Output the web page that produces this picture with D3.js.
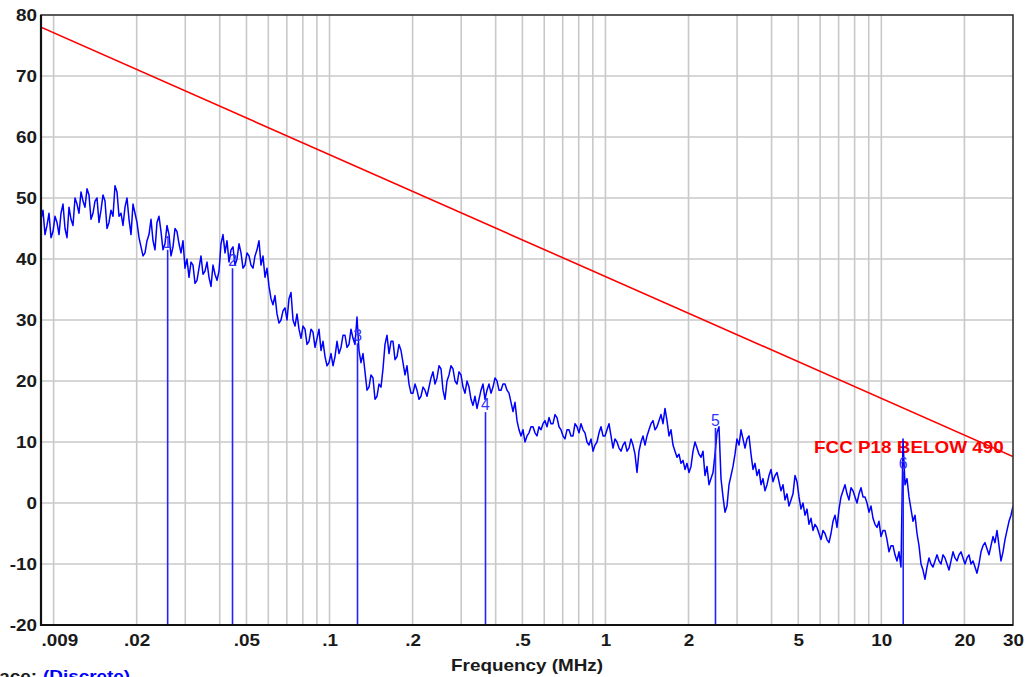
<!DOCTYPE html>
<html>
<head>
<meta charset="utf-8">
<script src="https://cdn.jsdelivr.net/npm/d3@7"></script>
<style>
  html, body { margin: 0; padding: 0; background: #fff; overflow: hidden; }
  svg { display: block; }
  text { font-family: "Liberation Sans", Arial, sans-serif; }
</style>
</head>
<body>
<div id="chart"></div>
<script>
// ── Data ────────────────────────────────────────────────────────────────────
// Sweep: log-spaced from 9 kHz to 30 MHz, one level (dBuV/m) per point.
const sweepStart = 0.009, sweepStop = 30; // MHz
const traceLevels = [
  46.5, 48, 44, 45.5, 47.5, 43.5, 44.5, 47, 46, 44, 47.5, 49, 45, 43.5, 48.5, 46.5, 45.5, 50, 49, 47.5,
  51, 49.5, 48.5, 51.5, 50.5, 46.5, 47.5, 49.5, 50, 46, 48, 50.5, 49.5, 45, 46, 48, 47, 52, 51, 47,
  47.5, 45.5, 48.5, 50, 46.5, 44, 49, 47.5, 46, 43.5, 42, 40.5, 41, 43, 44, 46.5, 43, 41.5, 46, 47,
  44.5, 41.5, 42.5, 45.5, 44, 40.5, 42, 45, 44.5, 42.5, 41, 43, 38.5, 40, 37, 39.5, 39, 36, 36.5, 38.5,
  40.5, 37.5, 38, 39.5, 37, 35.5, 39, 37.5, 36.5, 38, 42.5, 44, 41, 43, 39.5, 41.5, 42, 39, 40, 42.5,
  41, 38.5, 39, 41, 40.5, 39, 38.5, 40.5, 41.5, 43, 39, 40.5, 37, 38.5, 35.5, 33.5, 32.5, 34, 31, 29.5,
  30, 31.5, 32, 30, 33.5, 34.5, 30, 29, 31, 28.5, 27, 29, 28.5, 26, 26.5, 28.5, 28, 25.5, 27, 28.5,
  25, 26.5, 24, 22.5, 23, 24.5, 22.5, 24, 26.5, 24.5, 25.5, 27.5, 27.5, 25.5, 26, 28.5, 27, 26, 30.5, 25,
  23, 24.5, 21.5, 18.5, 19, 21, 20.5, 17, 17.5, 19.5, 19, 22, 26, 27.5, 24.5, 26.5, 26.5, 23.5, 24, 26,
  25, 23, 21, 22.5, 19.5, 18, 18, 19.5, 18.5, 17, 17.5, 19, 18.5, 17.5, 19, 20.5, 21.5, 19.5, 20.5, 22.5,
  22, 18.5, 17, 20, 21, 22.5, 22, 20, 19.5, 21.5, 21, 19, 18, 20, 19, 17, 16, 17.5, 15.5, 17,
  18.5, 19.5, 17, 18.5, 19.5, 18, 19, 20.5, 20, 18.5, 18.5, 19.5, 19.5, 18.5, 18, 16.5, 15, 16.5, 13.5, 12,
  11, 12, 10, 11, 11.5, 12.5, 12.5, 11.5, 11, 12.5, 12, 13, 13.5, 12.5, 14, 13, 13, 14.5, 14, 12.5,
  12, 11, 10.5, 12, 12, 11, 11, 13, 12.5, 11.5, 13, 12, 11.5, 10, 9.5, 10.5, 8.5, 9.5, 10, 11.5,
  12.5, 11, 11, 12, 13, 11, 9, 10.5, 10, 9, 8.5, 9.5, 10, 8.5, 9, 10.5, 9.5, 8, 5, 8.5,
  10, 11, 9.5, 11, 12, 13, 13.5, 12, 12.5, 13.5, 14.5, 13, 15.5, 13.5, 11, 12, 9.5, 8.5, 7.5, 8,
  6.5, 7, 5.5, 6.5, 5, 6, 8.5, 10, 9, 8, 7.5, 8.5, 4.5, 6, 3, 4, 5, 8, 11.5, 12.5,
  4, 1, -1.5, -0.5, 3, 4.5, 6, 8, 10.5, 9.5, 12, 10.5, 9, 10.5, 11, 8, 5.5, 6.5, 4.5, 5.5,
  3, 4, 2, 3, 4.5, 5.5, 3.5, 4.5, 5, 3.5, 2, 3, 0.5, 1.5, -0.5, 0.5, 1.5, 4.5, 3.5, 1,
  -1, 0, -2, -1, -3.5, -2.5, -4.5, -3.5, -4, -5, -6, -4.5, -5, -6, -6.5, -5, -3, -2, -4, -1,
  1, 2, 3, 1.5, 0.5, 2.5, 2, 1, 0, 1.5, 2.5, 1, 1, 0, -1.5, -0.5, -2.5, -3.5, -4, -3,
  -5.5, -4.5, -4.5, -6, -8, -7, -7, -8.5, -9.5, -8, -10.5, 10.5, 3, 4, 1, -1, -3, -2, -5, -7,
  -10, -11, -12.5, -10.5, -9, -10, -10.5, -9.5, -8.5, -9.5, -10, -8.5, -9, -10, -11, -9.5, -8, -9, -9.5, -8.5,
  -8, -9, -10, -9, -8.5, -10, -9.5, -10.5, -11.5, -10, -8, -7, -6.5, -7.5, -8.5, -7, -5.5, -6.5, -4.5, -7,
  -9.5, -8, -6, -4.5, -3, -2, -0.5
];

// FCC part 18 limit (straight line on the log axis)
const limitFreq = [0.009, 30];
const limitLevel = [78, 7.6];
const limitName = 'FCC P18 BELOW 490';

// Markers 1..6
const markerNames = ['1', '2', '3', '4', '5', '6'];
const markerFreq = [0.0259, 0.0445, 0.1263, 0.3675, 2.505, 12.0];
const markerLevel = [41.5, 38.5, 26.2, 14.9, 12.3, 5.2];

// Axes
const xTickValues = [0.009, 0.02, 0.05, 0.1, 0.2, 0.5, 1, 2, 5, 10, 20, 30];
const xTickLabels = ['.009', '.02', '.05', '.1', '.2', '.5', '1', '2', '5', '10', '20', '30'];
const yTickValues = [-20, -10, 0, 10, 20, 30, 40, 50, 60, 70, 80];
const xTitle = 'Frequency (MHz)';

// ── Layout ──────────────────────────────────────────────────────────────────
const W = 1028, H = 677;
const M = { left: 41, right: 15, top: 15, bottom: 52 };
const SX = 1.18;            // the original lettering is drawn a bit wide
const BLUE = '#0000ff', RED = '#ff0000', GRID = '#c8c8c8', INK = '#1a1a1a';

const svg = d3.select('#chart').append('svg').attr('width', W).attr('height', H);
svg.append('rect').attr('width', W).attr('height', H).attr('fill', '#fff');

const x = d3.scaleLog().domain([sweepStart, sweepStop]).range([M.left, W - M.right]);
const y = d3.scaleLinear().domain([-20, 80]).range([H - M.bottom, M.top]);

svg.append('defs').append('clipPath').attr('id', 'plotClip')
  .append('rect').attr('x', M.left).attr('y', M.top)
  .attr('width', W - M.left - M.right).attr('height', H - M.top - M.bottom);

// grid
const grid = svg.append('g').attr('stroke', GRID).attr('stroke-width', 1.6);
grid.selectAll('line.v')
  .data(x.ticks().filter(f => f > sweepStart * 1.001 && f < sweepStop * 0.999))
  .join('line').attr('class', 'v')
  .attr('x1', d => x(d)).attr('x2', d => x(d))
  .attr('y1', M.top).attr('y2', H - M.bottom);
grid.selectAll('line.h')
  .data(yTickValues.slice(1, -1))
  .join('line').attr('class', 'h')
  .attr('x1', M.left).attr('x2', W - M.right)
  .attr('y1', d => y(d)).attr('y2', d => y(d));

// limit label, then limit line
svg.append('text')
  .attr('transform', `translate(${x(5.7)},${y(8.2)}) scale(${SX},1)`)
  .attr('fill', RED).attr('font-weight', 700).attr('font-size', 16)
  .text(limitName);

const plot = svg.append('g').attr('clip-path', 'url(#plotClip)');
plot.append('path')
  .datum(limitFreq.map((f, i) => [f, limitLevel[i]]))
  .attr('fill', 'none').attr('stroke', RED).attr('stroke-width', 1.6)
  .attr('d', d3.line().x(d => x(d[0])).y(d => y(d[1])));

// trace
const n = traceLevels.length;
const traceFreq = traceLevels.map((_, i) => sweepStart * Math.pow(sweepStop / sweepStart, i / (n - 1)));
plot.append('path')
  .datum(traceLevels.map((v, i) => [traceFreq[i], v]))
  .attr('fill', 'none').attr('stroke', BLUE).attr('stroke-width', 1.5)
  .attr('stroke-linejoin', 'round')
  .attr('d', d3.line().x(d => x(d[0])).y(d => y(d[1])));

// markers
const mk = svg.append('g');
mk.selectAll('line')
  .data(markerFreq)
  .join('line')
  .attr('x1', d => x(d)).attr('x2', d => x(d))
  .attr('y1', (d, i) => y(markerLevel[i])).attr('y2', y(-20))
  .attr('stroke', '#2222ff').attr('stroke-width', 1.6);
mk.selectAll('text')
  .data(markerFreq)
  .join('text')
  .attr('transform', (d, i) => `translate(${x(d)},${y(markerLevel[i]) - 2}) scale(1.05,1.15)`)
  .attr('text-anchor', 'middle').attr('font-size', 15).attr('fill', '#3333ff')
  .text((d, i) => markerNames[i]);

// frame
svg.append('rect')
  .attr('x', M.left).attr('y', M.top)
  .attr('width', W - M.left - M.right).attr('height', H - M.top - M.bottom)
  .attr('fill', 'none').attr('stroke', '#333').attr('stroke-width', 1.6);
svg.append('path')
  .attr('d', `M${M.left},${M.top} V${H - M.bottom} H${W - M.right}`)
  .attr('fill', 'none').attr('stroke', '#111').attr('stroke-width', 2.2);

// axes (labels only; the frame and grid are drawn above)
const xAxis = svg.append('g')
  .attr('transform', `translate(0,${H - M.bottom})`)
  .call(d3.axisBottom(x).tickValues(xTickValues).tickSize(0).tickPadding(10)
    .tickFormat((d, i) => xTickLabels[i]));
const yAxis = svg.append('g')
  .attr('transform', `translate(${M.left},0)`)
  .call(d3.axisLeft(y).tickValues(yTickValues).tickSize(0).tickPadding(4)
    .tickFormat(d => String(d)));
[xAxis, yAxis].forEach(a => {
  a.select('.domain').remove();
  a.selectAll('text')
    .attr('font-family', '"Liberation Sans", Arial, sans-serif')
    .attr('font-size', 16).attr('font-weight', 700).attr('fill', INK);
});
xAxis.selectAll('.tick text').attr('transform', `scale(${SX},1)`);
xAxis.selectAll('.tick text').filter(d => d === sweepStart).attr('text-anchor', 'start');
yAxis.selectAll('.tick text').attr('x', -4 / SX).attr('transform', `scale(${SX},1)`);

svg.append('text')
  .attr('transform', `translate(${(M.left + W - M.right) / 2},${H - 6}) scale(${SX},1)`)
  .attr('text-anchor', 'middle').attr('font-size', 16).attr('font-weight', 700).attr('fill', INK)
  .text(xTitle);

// the footer line that is cut off by the bottom edge
const foot = svg.append('text')
  .attr('transform', `translate(43,${H + 5}) scale(${SX},1)`)
  .attr('font-size', 16).attr('font-weight', 700);
foot.append('tspan').attr('fill', BLUE).attr('text-decoration', 'underline').text('(Discrete)');
svg.append('text')
  .attr('transform', `translate(37,${H + 5}) scale(${SX},1)`)
  .attr('text-anchor', 'end').attr('font-size', 16).attr('font-weight', 700).attr('fill', INK)
  .text('Trace:');
</script>
</body>
</html>
